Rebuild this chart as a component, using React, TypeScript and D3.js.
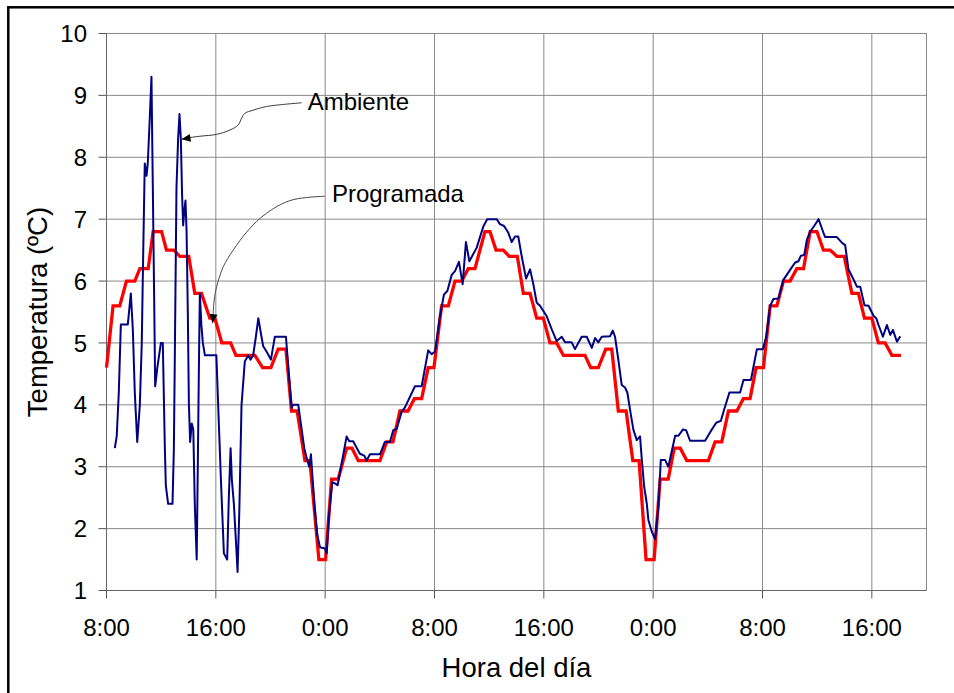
import React from 'react';
import * as d3 from 'd3';

const WIDTH = 954;
const HEIGHT = 693;

// x values: hours elapsed since 8:00 of the first day
const xTickHours = [0, 8, 16, 24, 32, 40, 48, 56];
const xTickLabels = ['8:00', '16:00', '0:00', '8:00', '16:00', '0:00', '8:00', '16:00'];
const yTickValues = [1, 2, 3, 4, 5, 6, 7, 8, 9, 10];

const xAxisTitle = 'Hora del día';
const yAxisTitle = 'Temperatura (ºC)';

// Programada (red)
const programadaHours = [0, 0.48, 0.97, 1.46, 2.07, 2.44, 3.05, 3.41, 4.03, 4.39, 4.93, 5.37, 6.02, 6.46, 6.95, 7.56, 7.93, 8.44, 9.08, 9.47, 10.86, 11.42, 12.03, 12.56, 13.13, 13.54, 13.95, 14.52, 14.88, 15.54, 16.03, 16.47, 16.95, 17.57, 17.96, 18.42, 20.01, 20.5, 20.96, 21.47, 22.06, 22.53, 23.06, 23.54, 23.96, 24.52, 25.01, 25.5, 25.99, 26.47, 26.96, 27.69, 28.06, 28.5, 29.03, 29.47, 30.06, 30.5, 30.99, 31.48, 31.96, 32.45, 32.94, 33.43, 35.01, 35.43, 35.99, 36.53, 36.97, 37.45, 38.02, 38.51, 38.97, 39.48, 40.07, 40.51, 41.1, 41.54, 41.98, 42.46, 44.04, 44.53, 45.02, 45.51, 46.12, 46.6, 47.09, 47.53, 48.07, 48.56, 49.05, 49.53, 50.02, 50.51, 51.0, 51.49, 51.98, 52.46, 52.95, 53.44, 53.98, 54.54, 55.02, 55.46, 56.0, 56.48, 56.97, 57.47, 58.13];
const programadaTemps = [4.6, 5.6, 5.6, 6.0, 6.0, 6.2, 6.2, 6.8, 6.8, 6.5, 6.5, 6.4, 6.4, 5.8, 5.8, 5.4, 5.4, 5.0, 5.0, 4.8, 4.8, 4.6, 4.6, 4.9, 4.9, 3.9, 3.9, 3.1, 3.1, 1.5, 1.5, 2.8, 2.8, 3.3, 3.3, 3.1, 3.1, 3.4, 3.4, 3.9, 3.9, 4.1, 4.1, 4.6, 4.6, 5.6, 5.6, 6.0, 6.0, 6.2, 6.2, 6.8, 6.8, 6.5, 6.5, 6.4, 6.4, 5.8, 5.8, 5.4, 5.4, 5.0, 5.0, 4.8, 4.8, 4.6, 4.6, 4.9, 4.9, 3.9, 3.9, 3.1, 3.1, 1.5, 1.5, 2.8, 2.8, 3.3, 3.3, 3.1, 3.1, 3.4, 3.4, 3.9, 3.9, 4.1, 4.1, 4.6, 4.6, 5.6, 5.6, 6.0, 6.0, 6.2, 6.2, 6.8, 6.8, 6.5, 6.5, 6.4, 6.4, 5.8, 5.8, 5.4, 5.4, 5.0, 5.0, 4.8, 4.8];

// Ambiente (navy)
const ambienteHours = [0.61, 0.75, 0.9, 1.05, 1.56, 1.78, 1.93, 2.07, 2.25, 2.44, 2.58, 2.69, 2.8, 2.93, 3.02, 3.17, 3.29, 3.39, 3.5, 3.56, 3.72, 3.98, 4.12, 4.27, 4.34, 4.51, 4.83, 4.93, 5.0, 5.12, 5.24, 5.34, 5.44, 5.53, 5.61, 5.68, 5.78, 5.86, 5.95, 6.03, 6.12, 6.24, 6.35, 6.46, 6.6, 6.68, 6.76, 6.83, 6.94, 7.05, 7.2, 8.04, 8.17, 8.37, 8.59, 8.83, 8.95, 9.08, 9.17, 9.32, 9.47, 9.59, 9.72, 9.88, 10.12, 10.37, 10.54, 10.73, 10.93, 11.11, 11.3, 11.46, 11.74, 12.03, 12.32, 13.13, 13.27, 13.54, 13.66, 14.03, 14.19, 14.47, 14.64, 14.83, 14.96, 15.08, 15.25, 15.42, 15.62, 15.98, 16.11, 16.27, 16.52, 16.71, 16.91, 17.2, 17.57, 17.76, 18.05, 18.54, 18.86, 19.03, 19.28, 20.01, 20.37, 20.74, 20.98, 21.23, 21.6, 21.84, 22.57, 23.06, 23.54, 23.79, 24.04, 24.4, 24.69, 24.94, 25.26, 25.5, 25.79, 26.06, 26.3, 26.55, 27.09, 27.57, 27.86, 28.55, 28.79, 29.09, 29.4, 29.65, 29.89, 30.13, 30.38, 30.7, 30.99, 31.23, 31.48, 31.72, 32.21, 32.58, 32.94, 33.31, 33.55, 34.04, 34.28, 34.77, 35.14, 35.51, 35.75, 35.99, 36.24, 36.85, 37.04, 37.21, 37.45, 37.7, 37.94, 38.11, 38.31, 38.55, 38.8, 39.04, 39.17, 39.34, 39.53, 39.65, 39.9, 40.14, 40.38, 40.56, 40.87, 41.11, 41.61, 41.85, 42.17, 42.41, 42.7, 43.8, 44.29, 44.61, 44.95, 45.19, 45.58, 46.36, 46.61, 47.15, 47.59, 48.03, 48.27, 48.56, 48.8, 49.17, 49.53, 50.02, 50.39, 50.63, 50.81, 51.05, 51.25, 51.49, 51.78, 52.1, 52.46, 52.59, 53.44, 53.81, 54.05, 54.29, 54.61, 54.91, 55.15, 55.46, 55.76, 56.12, 56.32, 56.49, 56.81, 57.1, 57.35, 57.54, 57.84, 58.08];
const ambienteTemps = [3.3, 3.5, 4.2, 5.3, 5.3, 5.8, 5.2, 4.2, 3.4, 4.0, 5.0, 6.5, 7.9, 7.7, 7.9, 8.65, 9.3, 7.5, 5.5, 4.3, 4.6, 5.0, 5.0, 3.3, 2.7, 2.4, 2.4, 3.3, 4.8, 7.5, 8.3, 8.7, 8.3, 7.4, 6.9, 7.1, 7.3, 6.8, 5.5, 4.0, 3.4, 3.7, 3.6, 2.4, 1.5, 3.0, 4.6, 5.8, 5.3, 5.0, 4.8, 4.8, 4.0, 2.8, 1.6, 1.5, 2.5, 3.3, 2.8, 2.4, 1.8, 1.3, 2.3, 4.0, 4.7, 4.8, 4.73, 4.8, 5.1, 5.4, 5.15, 4.95, 4.85, 4.73, 5.1, 5.1, 4.7, 3.95, 4.0, 4.0, 3.75, 3.3, 3.15, 3.0, 3.2, 2.8, 2.3, 1.9, 1.7, 1.68, 1.6, 2.2, 2.75, 2.73, 2.7, 3.05, 3.49, 3.41, 3.41, 3.21, 3.18, 3.1, 3.2, 3.2, 3.4, 3.4, 3.59, 3.61, 3.89, 3.96, 4.3, 4.3, 4.88, 4.82, 4.86, 5.43, 5.78, 5.84, 6.1, 6.16, 6.31, 5.95, 6.63, 6.32, 6.54, 6.88, 7.0, 7.0, 6.92, 6.89, 6.78, 6.63, 6.72, 6.72, 6.4, 6.04, 6.19, 5.95, 5.65, 5.6, 5.43, 5.22, 5.03, 5.1, 5.01, 5.01, 4.9, 5.1, 5.1, 4.92, 5.08, 5.01, 5.1, 5.11, 5.2, 5.1, 4.73, 4.32, 4.28, 4.2, 3.92, 3.6, 3.43, 3.49, 3.11, 2.68, 2.41, 2.14, 1.95, 1.83, 2.35, 3.11, 3.11, 3.0, 3.5, 3.5, 3.6, 3.59, 3.42, 3.42, 3.6, 3.71, 3.74, 3.92, 4.2, 4.2, 4.4, 4.4, 4.9, 4.9, 5.1, 5.6, 5.71, 5.72, 6.02, 6.18, 6.3, 6.32, 6.41, 6.42, 6.67, 6.8, 6.89, 7.0, 6.78, 6.71, 6.71, 6.62, 6.58, 6.19, 6.05, 5.91, 5.91, 5.61, 5.6, 5.44, 5.4, 5.29, 5.1, 5.29, 5.13, 5.21, 5.02, 5.11];

// Annotation leader curves (hours, ºC), ending at the arrow tip
const ambienteLabel = 'Ambiente';
const ambienteLeaderHours = [14.28, 11.71, 10.73, 10.12, 9.88, 9.63, 9.03, 8.05, 6.83, 5.86, 5.49];
const ambienteLeaderTemps = [8.88, 8.82, 8.76, 8.71, 8.63, 8.52, 8.44, 8.37, 8.34, 8.31, 8.29];
const programadaLabel = 'Programada';
const programadaLeaderHours = [15.98, 14.64, 13.42, 12.2, 11.22, 10.25, 9.27, 8.54, 8.05, 7.88, 7.76];
const programadaLeaderTemps = [7.37, 7.35, 7.3, 7.17, 7.01, 6.79, 6.5, 6.23, 5.9, 5.69, 5.32];

const FONT = '"Liberation Sans", Arial, Helvetica, sans-serif';

function zip(a: number[], b: number[]): [number, number][] {
  const n = Math.min(a.length, b.length);
  const out: [number, number][] = [];
  for (let i = 0; i < n; i++) out.push([a[i], b[i]]);
  return out;
}

export default function App() {
  const plot = { left: 106.5, right: 926.5, top: 33.5, bottom: 590.5 };
  const x = d3.scaleLinear().domain([0, 60]).range([plot.left, plot.right]);
  const y = d3.scaleLinear().domain([1, 10]).range([plot.bottom, plot.top]);

  const line = d3
    .line<[number, number]>()
    .x((d) => x(d[0]))
    .y((d) => y(d[1]));
  const leader = d3
    .line<[number, number]>()
    .x((d) => x(d[0]))
    .y((d) => y(d[1]))
    .curve(d3.curveCatmullRom.alpha(0.5));

  const prog = zip(programadaHours, programadaTemps);
  const amb = zip(ambienteHours, ambienteTemps);
  const ambLead = zip(ambienteLeaderHours, ambienteLeaderTemps);
  const progLead = zip(programadaLeaderHours, programadaLeaderTemps);

  const arrowHead = (pts: [number, number][]) => {
    const tip = pts[pts.length - 1];
    const prev = pts[pts.length - 3];
    const tx = x(tip[0]);
    const ty = y(tip[1]);
    const px = x(prev[0]);
    const py = y(prev[1]);
    const dx = tx - px;
    const dy = ty - py;
    const len = Math.hypot(dx, dy) || 1;
    const ux = dx / len;
    const uy = dy / len;
    const L = 9;
    const Wd = 4;
    const bx = tx - ux * L;
    const by = ty - uy * L;
    return `M${tx},${ty}L${bx - uy * Wd},${by + ux * Wd}L${bx + uy * Wd},${by - ux * Wd}Z`;
  };

  const gridColor = '#8a8a8a';

  return (
    <svg
      width={WIDTH}
      height={HEIGHT}
      viewBox={`0 0 ${WIDTH} ${HEIGHT}`}
      style={{ position: 'absolute', left: 0, top: 0, display: 'block', background: '#fff' }}
      fontFamily={FONT}
    >
      <rect x={0} y={0} width={WIDTH} height={HEIGHT} fill="#ffffff" />
      {/* outer chart frame (cut by the picture edge at right and bottom) */}
      <rect x={8.3} y={7.3} width={1200} height={1200} fill="none" stroke="#000" strokeWidth={2.5} />

      {/* plot area */}
      <rect
        x={plot.left}
        y={plot.top}
        width={plot.right - plot.left}
        height={plot.bottom - plot.top}
        fill="#ffffff"
        stroke={gridColor}
        strokeWidth={1}
      />
      {/* horizontal grid */}
      {yTickValues.map((v) => (
        <line key={`gy${v}`} x1={plot.left} x2={plot.right} y1={y(v)} y2={y(v)} stroke={gridColor} strokeWidth={1} />
      ))}
      {/* vertical grid */}
      {xTickHours.map((h) => (
        <line key={`gx${h}`} x1={x(h)} x2={x(h)} y1={plot.top} y2={plot.bottom} stroke={gridColor} strokeWidth={1} />
      ))}

      {/* y ticks & labels */}
      {yTickValues.map((v) => (
        <g key={`ty${v}`}>
          <line x1={plot.left - 8} x2={plot.left} y1={y(v)} y2={y(v)} stroke="#555" strokeWidth={1} />
          <text x={87} y={y(v)} dy="0.36em" textAnchor="end" fontSize={24} fill="#000">
            {v}
          </text>
        </g>
      ))}
      {/* x ticks & labels */}
      {xTickHours.map((h, i) => (
        <g key={`tx${h}`}>
          <line x1={x(h)} x2={x(h)} y1={plot.bottom} y2={plot.bottom + 8} stroke="#555" strokeWidth={1} />
          <text x={x(h)} y={636} textAnchor="middle" fontSize={24} fill="#000">
            {xTickLabels[i]}
          </text>
        </g>
      ))}
      {/* axis lines */}
      <line x1={plot.left} x2={plot.left} y1={plot.top} y2={plot.bottom} stroke="#666" strokeWidth={1} />
      <line x1={plot.left} x2={plot.right} y1={plot.bottom} y2={plot.bottom} stroke="#666" strokeWidth={1} />

      {/* series */}
      <path d={line(prog) || ''} fill="none" stroke="#ff0000" strokeWidth={3.3} strokeLinejoin="miter" strokeMiterlimit={2} />
      <path d={line(amb) || ''} fill="none" stroke="#000080" strokeWidth={2} strokeLinejoin="round" />

      {/* annotations */}
      <path d={leader(ambLead) || ''} fill="none" stroke="#3a3a3a" strokeWidth={1} />
      <path d={arrowHead(ambLead)} fill="#000" />
      <text x={x(ambLead[0][0]) + 6} y={y(ambLead[0][1]) + 7} fontSize={24} fill="#000">
        {ambienteLabel}
      </text>
      <path d={leader(progLead) || ''} fill="none" stroke="#4a4a4a" strokeWidth={1} />
      <path d={arrowHead(progLead)} fill="#000" />
      <text x={x(progLead[0][0]) + 7} y={y(progLead[0][1]) + 6} fontSize={24} fill="#000">
        {programadaLabel}
      </text>

      {/* axis titles */}
      <text x={(plot.left + plot.right) / 2} y={677} textAnchor="middle" fontSize={27.5} fill="#000">
        {xAxisTitle}
      </text>
      <text
        transform={`translate(46.5, ${(plot.top + plot.bottom) / 2}) rotate(-90)`}
        textAnchor="middle"
        fontSize={27.5}
        fill="#000"
      >
        {yAxisTitle}
      </text>
    </svg>
  );
}
